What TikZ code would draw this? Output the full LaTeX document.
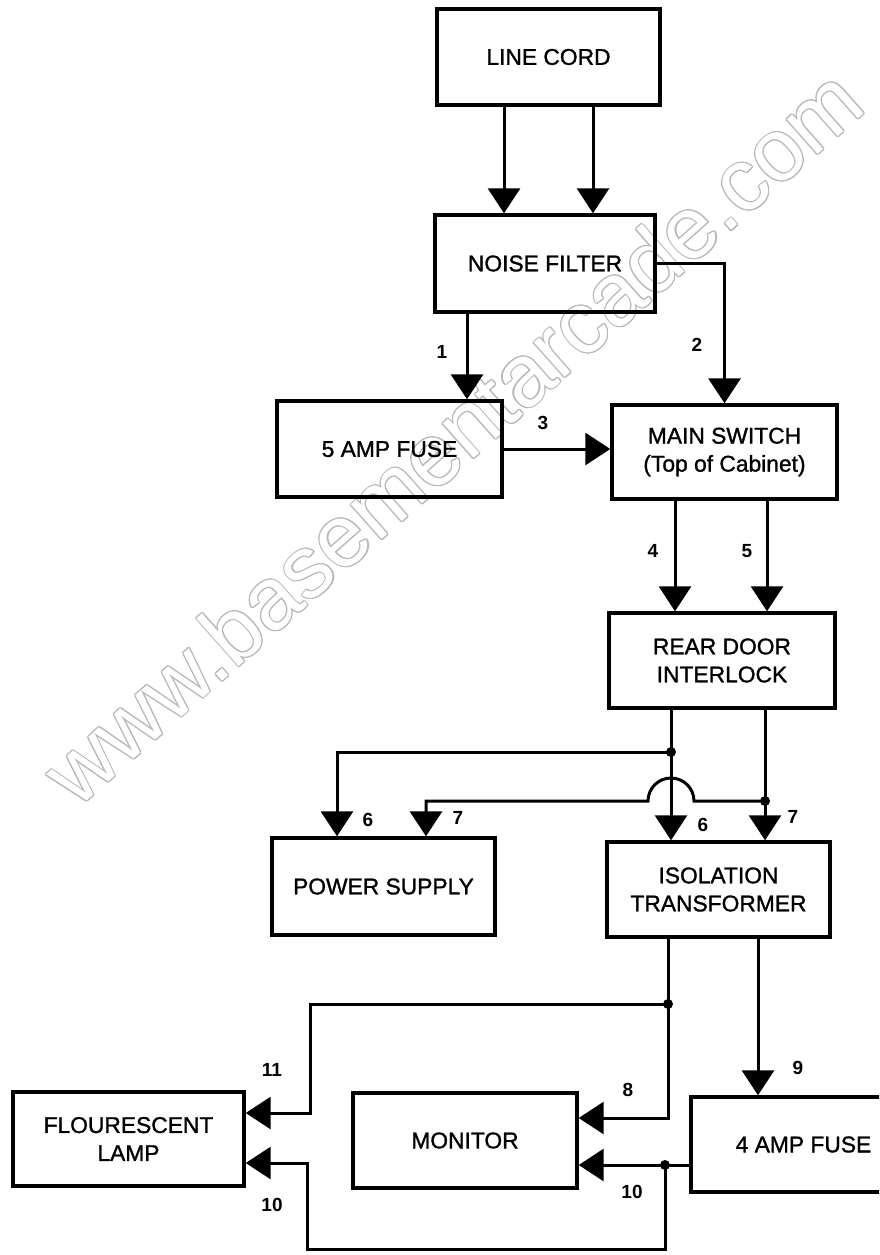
\documentclass[tikz,border=0pt]{standalone}
\usepackage{fontspec}
\setmainfont{Liberation Sans}
\newfontfamily\bxfont[FakeBold=1.2]{Liberation Sans}
\usetikzlibrary{arrows.meta,calc}
\begin{document}
\begin{tikzpicture}[x=1pt,y=-1pt]
\tikzset{
 box/.style={draw, line width=3.4pt, align=center, inner sep=0pt, font=\bxfont\fontsize{22.8}{28}\selectfont},
 wire/.style={line width=3pt},
 arr/.style={wire, -{Triangle[width=32pt,length=25pt]}},
 lab/.style={font=\bfseries\fontsize{19}{19}\selectfont, inner sep=0pt},
 dot/.style={circle, fill, inner sep=0pt, minimum size=10pt},
 wmark/.style={rotate=41.5, font=\fontsize{88}{88}\selectfont, inner sep=0pt},
}
\useasboundingbox (0,0) rectangle (879,1255);
\clip (0,0) rectangle (879,1255);
% watermark (outlined, light grey)
\foreach \a in {0,30,...,330}
  \node[wmark, text=black!28] (wm\a) at ($(452,436)+(\a:1.1pt)$) {www.basementarcade.com};
\node[wmark, text=white] (wm) at (452,436) {www.basementarcade.com};
% boxes
\node[box, minimum width=223pt, minimum height=96pt] (lc) at (548.5,57) {LINE CORD};
\node[box, minimum width=220pt, minimum height=97pt] (nf) at (545,263.5) {NOISE FILTER};
\node[box, minimum width=225pt, minimum height=96pt] (f5) at (389.5,449) {5 AMP FUSE};
\node[box, minimum width=225pt, minimum height=94pt] (ms) at (724.5,452) {MAIN SWITCH\\(Top of Cabinet)};
\node[box, minimum width=226pt, minimum height=95pt] (rd) at (722,660.5) {REAR DOOR\\INTERLOCK};
\node[box, minimum width=223pt, minimum height=97pt] (ps) at (383.5,886.5) {POWER SUPPLY};
\node[box, minimum width=223pt, minimum height=95pt] (it) at (718.5,889.5) {ISOLATION\\TRANSFORMER};
\node[box, minimum width=231pt, minimum height=94pt] (fl) at (128.5,1139) {FLOURESCENT\\LAMP};
\node[box, minimum width=224pt, minimum height=95pt] (mo) at (465,1140.5) {MONITOR};
\node[box, minimum width=225pt, minimum height=95pt] (f4) at (803.5,1144.5) {4 AMP FUSE};
% helper coordinates
\coordinate (xa) at (504,0); \coordinate (xb) at (593,0);
\coordinate (x1) at (467,0);
\coordinate (x4) at (675,0); \coordinate (x5) at (767,0);
\coordinate (j1) at (671,752); \coordinate (j2) at (765,801);
\coordinate (x6) at (337,0); \coordinate (x7) at (426,0);
\coordinate (j3) at (668,1004); \coordinate (j4) at (665,1165);
\coordinate (y8) at (0,1118);
\coordinate (x11) at (310,0); \coordinate (y11) at (0,1113);
\coordinate (x9) at (758,0);
\coordinate (ybot) at (0,1249); \coordinate (x10) at (307,0); \coordinate (y10) at (0,1163);
% connectors
\draw[arr] (lc.south -| xa) -- (nf.north -| xa);
\draw[arr] (lc.south -| xb) -- (nf.north -| xb);
\draw[arr] (nf.south -| x1) -- (f5.north -| x1);
\draw[arr] (nf.east) -| (ms.north);
\draw[arr] (f5.east) -- (f5.east -| ms.west);
\draw[arr] (ms.south -| x4) -- (rd.north -| x4);
\draw[arr] (ms.south -| x5) -- (rd.north -| x5);
\draw[wire] (rd.south -| j1) -- (j1);
\draw[wire] (rd.south -| j2) -- (j2);
\draw[arr] (j1) -| (ps.north -| x6);
\draw[arr] (j1) -- (it.north -| j1);
\draw[arr] (j2) -- (it.north -| j2);
\draw[arr] (j2) -- ($(j1 |- j2)+(23,0)$) arc[start angle=0,end angle=180,radius=23pt] -| (ps.north -| x7);
\draw[wire] (it.south -| j3) -- (j3);
\draw[arr] (j3) |- (y8 -| mo.east);
\draw[arr] (j3) -- (j3 -| x11) |- (y11 -| fl.east);
\draw[arr] (it.south -| x9) -- (f4.north -| x9);
\draw[wire] (f4.west |- j4) -- (j4);
\draw[arr] (j4) -- (j4 -| mo.east);
\draw[arr] (j4) -- (j4 |- ybot) -- (x10 |- ybot) -- (x10 |- y10) -- (y10 -| fl.east);
% junction dots
\node[dot] (d1) at (j1) {};
\node[dot] (d2) at (j2) {};
\node[dot] (d3) at (j3) {};
\node[dot] (d4) at (j4) {};
% labels
\node[lab] (l1) at (442,352) {1};
\node[lab] (l2) at (697,345) {2};
\node[lab] (l3) at (543,423) {3};
\node[lab] (l4) at (653,551) {4};
\node[lab] (l5) at (747,551) {5};
\node[lab] (l6a) at (368,820) {6};
\node[lab] (l7a) at (458,818) {7};
\node[lab] (l6b) at (703,825) {6};
\node[lab] (l7b) at (793,817) {7};
\node[lab] (l8) at (628,1090) {8};
\node[lab] (l9) at (798,1068) {9};
\node[lab] (l10a) at (632,1192) {10};
\node[lab] (l11) at (272,1070) {11};
\node[lab] (l10b) at (272,1205) {10};
\end{tikzpicture}
\end{document}
